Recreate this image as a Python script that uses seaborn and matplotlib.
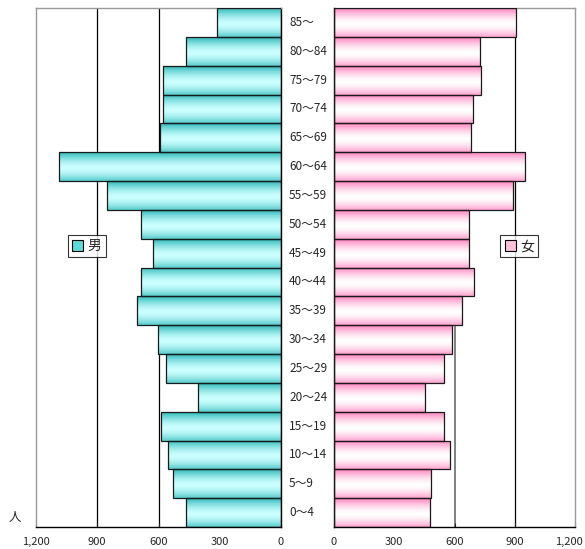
import numpy as np
import pandas as pd
import seaborn as sns
import matplotlib.pyplot as plt
from matplotlib.colors import LinearSegmentedColormap
from matplotlib.patches import Patch
from matplotlib import transforms

# 年齢階級 (上から順)
ages = ["85～", "80～84", "75～79", "70～74", "65～69", "60～64", "55～59", "50～54", "45～49",
        "40～44", "35～39", "30～34", "25～29", "20～24", "15～19", "10～14", "5～9", "0～4"]
male = [315, 467, 579, 578, 593, 1089, 850, 684, 625, 684, 703, 604, 563, 408, 589, 552, 527, 467]
female = [906, 729, 734, 692, 681, 953, 893, 674, 674, 699, 636, 588, 550, 455, 550, 580, 485, 480]
ticks = [0, 300, 600, 900, 1200]

sns.set_theme(style="white")
plt.rcParams['font.family'] = ['Noto Sans CJK JP', 'DejaVu Sans']

df = pd.DataFrame({"age": ages, "male": male, "female": female})

fig = plt.figure(figsize=(5.85, 5.49), dpi=100)
ax_m = fig.add_axes([36 / 585, 22 / 549, 245 / 585, 519 / 549])
ax_f = fig.add_axes([334 / 585, 22 / 549, 241 / 585, 519 / 549])


def gradient_bars(ax, edge_col, mid_col):
    # バーを縦方向のグラデーションで塗る
    cmap = LinearSegmentedColormap.from_list("g", [edge_col, mid_col])
    t = np.linspace(0, 1, 64)
    prof = 1 - np.abs(2 * (t - 0.55) / 1.1) ** 1.6
    grad = np.clip(prof, 0, 1).reshape(-1, 1)
    xlim, ylim = ax.get_xlim(), ax.get_ylim()
    for p in ax.patches:
        x0, y0 = p.get_x(), p.get_y()
        w, h = p.get_width(), p.get_height()
        im = ax.imshow(grad, extent=[x0, x0 + w, y0 + h, y0], aspect="auto",
                       cmap=cmap, vmin=0, vmax=1, zorder=2, interpolation="bilinear")
        im.set_clip_path(p)
        p.set_facecolor("none")
        p.set_zorder(3)
    ax.set_xlim(xlim)
    ax.set_ylim(ylim)


sns.barplot(data=df, y="age", x="male", order=ages, orient="h", width=1.0,
            color="#33c0c0", edgecolor="#1a1a1a", linewidth=0.9, ax=ax_m)
sns.barplot(data=df, y="age", x="female", order=ages, orient="h", width=1.0,
            color="#ff88c0", edgecolor="#1a1a1a", linewidth=0.9, ax=ax_f)

ax_m.set_xlim(1200, 0)
ax_f.set_xlim(0, 1200)
for ax in (ax_m, ax_f):
    ax.set_ylim(len(ages) - 0.5, -0.5)

gradient_bars(ax_m, "#2cb8b8", "#ccffff")
gradient_bars(ax_f, "#ff80bc", "#ffffff")

# 目盛線
for v in (600, 900):
    ax_m.axvline(v, color="black", lw=0.9, zorder=0)
ax_f.axvline(600, color="#808080", lw=1.4, zorder=0)
ax_f.axvline(900, color="black", lw=0.9, zorder=0)

for ax in (ax_m, ax_f):
    ax.set_xticks(ticks)
    ax.set_xticklabels([f"{v:,}" for v in ticks], fontsize=8)
    ax.tick_params(axis="x", direction="in", length=3, width=0.8, pad=7, bottom=True)
    ax.set_yticks([])
    ax.set_xlabel("")
    ax.set_ylabel("")
    for s in ax.spines.values():
        s.set_color("#999999")
        s.set_linewidth(1.0)
    ax.spines["bottom"].set_color("black")

ax_m.spines["right"].set_color("black")
ax_f.spines["left"].set_color("black")

# 右端の "1,200" が切れないよう少し左へ
last = ax_f.get_xticklabels()[-1]
last.set_transform(last.get_transform() + transforms.ScaledTranslation(-4 / 72, 0, fig.dpi_scale_trans))

# 年齢ラベル
tr = transforms.blended_transform_factory(fig.transFigure, ax_f.transData)
for i, a in enumerate(ages):
    fig.text(289 / 585, i, a, transform=tr, ha="left", va="center", fontsize=8.5)

fig.text(15 / 585, 1 - 518 / 549, "人", ha="center", va="center", fontsize=9)

# 凡例
for ax, lab, col, cx in ((ax_m, "男", "#5fd8d8", 0.208), (ax_f, "女", "#ffc0dc", 0.768)):
    leg = ax.legend(handles=[Patch(facecolor=col, edgecolor="black", linewidth=0.8)],
                    labels=[lab], loc="center", bbox_to_anchor=(cx, 0.541),
                    frameon=True, fancybox=False, fontsize=10, handlelength=0.8,
                    handleheight=0.8, handletextpad=0.3, borderpad=0.3,
                    borderaxespad=0)
    leg.get_frame().set_edgecolor("black")
    leg.get_frame().set_linewidth(0.8)
    leg.set_zorder(5)

fig.savefig("out.png", dpi=100)
